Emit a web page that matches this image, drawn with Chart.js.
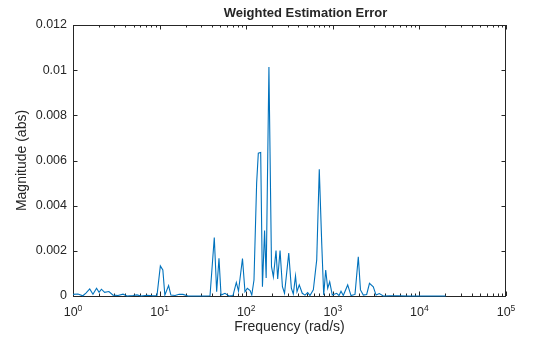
<!DOCTYPE html>
<html>
<head>
<meta charset="utf-8">
<script src="https://cdn.jsdelivr.net/npm/chart.js@4/dist/chart.umd.min.js"></script>
<style>
  html, body { margin: 0; padding: 0; background: #fff; }
</style>
</head>
<body>
<canvas id="error-chart" width="560" height="337"></canvas>
<script>
// frequency points (rad/s) and weighted error magnitude
const freqs = [1.00, 1.14, 1.30, 1.41, 1.56, 1.70, 1.87, 2.00, 2.13, 2.32, 2.60, 2.90, 3.31, 3.78, 4.20, 4.93, 5.48, 6.10, 7.16, 8.39, 9.33,
    10.2, 10.9, 11.5, 12.7, 13.5, 15.1, 16.8, 18.6, 21.3, 26.3, 32.6, 38.2, 42.8, 45.6, 48.5, 51.2, 56.9, 63.3, 70.4, 76.9, 81.5, 90.6, 96.8,
    103, 111, 116, 123, 132, 138, 147, 154, 163, 170, 183, 196, 206, 221, 231, 246, 262, 277, 310, 332, 350, 371, 386, 410, 444, 478, 513, 545, 596, 652, 698, 745, 785, 828, 873, 921, 986,
    1109, 1180, 1244, 1322, 1486, 1623, 1805, 1970, 2087, 2250, 2462, 2652, 2935, 3157, 3446, 3830, 4580, 5665, 7780,
    11600, 20100];
const magnitudes = [0.00007, 0.00009, 0.00001, 0.00013, 0.00031, 0.00008, 0.00034, 0.00016, 0.00030, 0.00016, 0.00020, 0.00004, 0.00002, 0.00008, 0, 0.00002, 0.00005, 0, 0.00003, 0.00001, 0.00002,
    0.00133, 0.00115, 0.00004, 0.00046, 0.00004, 0.00002, 0.00008, 0.00007, 0, 0, 0, 0.00001, 0.00259, 0.00019, 0.00167, 0.00004, 0.00012, 0, 0.00002, 0.00060, 0.00022, 0.00166, 0.00019,
    0.00034, 0.00024, 0.00004, 0.00071, 0.00500, 0.00632, 0.00635, 0.00041, 0.00290, 0.00080, 0.01014, 0.00130, 0.00085, 0.00201, 0.00075, 0.00201, 0.00041, 0.00012, 0.00190, 0.00035, 0.00009, 0.00089, 0.00019, 0.00049, 0.00012, 0.00004, 0.00015, 0.00002, 0.00027, 0.00160, 0.00561, 0.00233, 0.00004, 0.00115, 0.00034, 0.00063, 0.00004,
    0.00012, 0.00002, 0.00021, 0.00002, 0.00049, 0.00002, 0.00007, 0.00174, 0.00027, 0.00004, 0.00007, 0.00056, 0.00041, 0.00004, 0.00011, 0, 0.00001, 0.00001, 0,
    0, 0];

const xDecades = [1, 10, 100, 1000, 10000, 100000];
const xExponents = ['0', '1', '2', '3', '4', '5'];
const yTicks = [0, 0.002, 0.004, 0.006, 0.008, 0.01, 0.012];
const yTickLabels = ['0', '0.002', '0.004', '0.006', '0.008', '0.01', '0.012'];

const chartTitle = 'Weighted Estimation Error';
const xTitle = 'Frequency (rad/s)';
const yTitle = 'Magnitude (abs)';

const FONT = '"Liberation Sans", Arial, Helvetica, sans-serif';
const INK = '#262626';

// matlab style box, inward ticks, 10^n labels and title
const matlabAxes = {
    id: 'matlabAxes',
    beforeDatasetsDraw(chart) {
        const ctx = chart.ctx;
        const {left, right, top, bottom} = chart.chartArea;
        const x = chart.scales.x;
        const y = chart.scales.y;
        ctx.save();
        ctx.strokeStyle = INK;
        ctx.lineWidth = 1;
        ctx.strokeRect(left + 0.5, top + 0.5, right - left - 1, bottom - top);

        ctx.beginPath();
        xDecades.forEach(d => {
            for (let m = 1; m <= 9; m++) {
                const v = d * m;
                if (v > 100000) break;
                const px = Math.round(x.getPixelForValue(v)) + 0.5;
                const len = m === 1 ? 4.5 : 2.5;
                ctx.moveTo(px, bottom);
                ctx.lineTo(px, bottom - len);
                ctx.moveTo(px, top);
                ctx.lineTo(px, top + len);
            }
        });
        yTicks.forEach(v => {
            const py = Math.round(y.getPixelForValue(v)) + 0.5;
            ctx.moveTo(left, py);
            ctx.lineTo(left + 4.5, py);
            ctx.moveTo(right, py);
            ctx.lineTo(right - 4.5, py);
        });
        ctx.stroke();

        // x tick labels as 10 with raised exponent
        ctx.fillStyle = INK;
        ctx.textBaseline = 'alphabetic';
        ctx.textAlign = 'left';
        xDecades.forEach((d, i) => {
            const px = x.getPixelForValue(d);
            ctx.font = '12.5px ' + FONT;
            const wBase = ctx.measureText('10').width;
            ctx.font = '8.5px ' + FONT;
            const wExp = ctx.measureText(xExponents[i]).width;
            const start = px - (wBase + wExp) / 2;
            ctx.font = '12.5px ' + FONT;
            ctx.fillText('10', start, 316);
            ctx.font = '8.5px ' + FONT;
            ctx.fillText(xExponents[i], start + wBase, 310.5);
        });

        ctx.font = 'bold 13px ' + FONT;
        ctx.textAlign = 'center';
        ctx.textBaseline = 'middle';
        ctx.fillText(chartTitle, (left + right) / 2 + 16, 13);
        ctx.restore();
    }
};

new Chart(document.getElementById('error-chart').getContext('2d'), {
    type: 'line',
    data: {
        datasets: [{
            data: freqs.map((f, i) => ({x: f, y: magnitudes[i]})),
            borderColor: '#0072BD',
            borderWidth: 1.1,
            pointRadius: 0,
            tension: 0,
            fill: false,
            clip: false
        }]
    },
    options: {
        responsive: false,
        animation: false,
        devicePixelRatio: 1,
        layout: {padding: {top: 25, right: 54, bottom: 0, left: 0}},
        plugins: {
            legend: {display: false},
            tooltip: {enabled: false}
        },
        scales: {
            x: {
                type: 'logarithmic',
                min: 1,
                max: 100000,
                grid: {display: false, drawTicks: false},
                border: {display: false},
                ticks: {display: false},
                afterBuildTicks: s => { s.ticks = xDecades.map(v => ({value: v})); },
                afterFit: s => { s.height = 41; },
                title: {
                    display: true,
                    text: xTitle,
                    color: INK,
                    font: {family: FONT, size: 14},
                    padding: {top: 0, bottom: 1}
                }
            },
            y: {
                min: 0,
                max: 0.012,
                grid: {display: false, drawTicks: false},
                border: {display: false},
                afterBuildTicks: s => { s.ticks = yTicks.map(v => ({value: v})); },
                afterFit: s => { s.width = 73; },
                ticks: {
                    padding: 6,
                    color: INK,
                    font: {family: FONT, size: 12.5},
                    callback: (v, i) => yTickLabels[i]
                },
                title: {
                    display: true,
                    text: yTitle,
                    color: INK,
                    font: {family: FONT, size: 14},
                    padding: {top: 14, bottom: 0}
                }
            }
        }
    },
    plugins: [matlabAxes]
});
</script>
</body>
</html>
